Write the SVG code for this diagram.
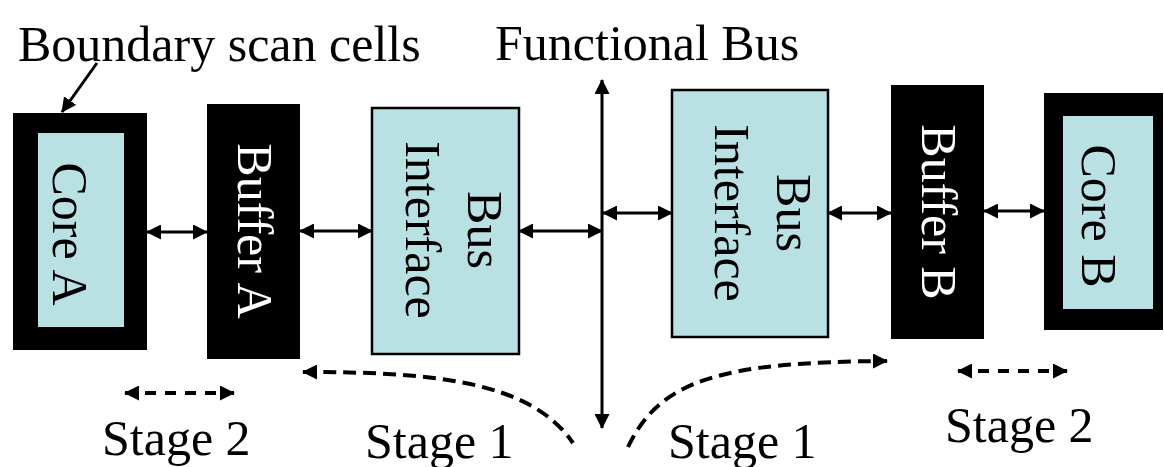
<svg xmlns="http://www.w3.org/2000/svg" width="1164" height="467" viewBox="0 0 1164 467">
<style>
text{font-family:"Liberation Serif","Times New Roman",serif;font-size:50px;fill:#000}
.lbl{text-anchor:middle}
.w{fill:#fff}
.core{fill:#000}
.inner{fill:#b9e0e3}
.bif{fill:#b9e0e3;stroke:#000;stroke-width:2.5}
.buf{fill:#000}
.ln{fill:none;stroke:#000;stroke-width:3}
.dash{fill:none;stroke:#000;stroke-width:4;stroke-dasharray:13 7}
.sdash{fill:none;stroke:#000;stroke-width:4;stroke-dasharray:11 9}
</style>
<defs>
<marker id="ah" markerUnits="userSpaceOnUse" markerWidth="15" markerHeight="15" refX="14" refY="7.5" orient="auto-start-reverse" viewBox="0 0 15 15">
<path d="M0,0 L15,7.5 L0,15 z" fill="#000"/>
</marker>
</defs>
<rect width="1164" height="467" fill="#fff"/>
<text x="18" y="61">Boundary scan cells</text>
<text x="495" y="60">Functional Bus</text>
<g id="coreA">
<rect class="core" x="13" y="113" width="134" height="237"/>
<rect class="inner" x="38" y="133" width="86" height="194"/>
<text class="lbl" transform="translate(53,234) rotate(90)">Core A</text>
</g>
<g id="bufferA">
<rect class="buf" x="207" y="104" width="93" height="255"/>
<text class="lbl w" transform="translate(238,231) rotate(90)">Buffer A</text>
</g>
<g id="busIfA">
<rect class="bif" x="372" y="108" width="147" height="246"/>
<text class="lbl" transform="translate(468,230) rotate(90)">Bus</text>
<text class="lbl" transform="translate(406,230) rotate(90)">Interface</text>
</g>
<g id="busIfB">
<rect class="bif" x="672" y="90" width="156" height="247"/>
<text class="lbl" transform="translate(777,213) rotate(90)">Bus</text>
<text class="lbl" transform="translate(715,213) rotate(90)">Interface</text>
</g>
<g id="bufferB">
<rect class="buf" x="891" y="85" width="93" height="254"/>
<text class="lbl w" transform="translate(922,212) rotate(90)">Buffer B</text>
</g>
<g id="coreB">
<rect class="core" x="1044" y="93" width="119" height="237"/>
<rect class="inner" x="1063" y="116" width="90" height="193"/>
<text class="lbl" transform="translate(1082,216) rotate(90)">Core B</text>
</g>
<g id="connectors">
<line class="ln" x1="97" y1="63" x2="62" y2="112" stroke-width="3.5" marker-end="url(#ah)"/>
<line class="ln" x1="602" y1="80" x2="602" y2="428" stroke-width="3.5" marker-start="url(#ah)" marker-end="url(#ah)"/>
<line class="ln" x1="147" y1="232" x2="207" y2="232" marker-start="url(#ah)" marker-end="url(#ah)"/>
<line class="ln" x1="300" y1="231" x2="372" y2="231" marker-start="url(#ah)" marker-end="url(#ah)"/>
<line class="ln" x1="519" y1="231" x2="602" y2="231" marker-start="url(#ah)" marker-end="url(#ah)"/>
<line class="ln" x1="603" y1="213" x2="672" y2="213" marker-start="url(#ah)" marker-end="url(#ah)"/>
<line class="ln" x1="828" y1="213" x2="891" y2="213" marker-start="url(#ah)" marker-end="url(#ah)"/>
<line class="ln" x1="984" y1="211" x2="1044" y2="211" marker-start="url(#ah)" marker-end="url(#ah)"/>
<line class="sdash" x1="125" y1="393" x2="234" y2="393" marker-start="url(#ah)" marker-end="url(#ah)"/>
<line class="sdash" x1="958" y1="371" x2="1067" y2="371" marker-start="url(#ah)" marker-end="url(#ah)"/>
<path class="dash" d="M303,372 C430,372 530,380 573,443" marker-start="url(#ah)"/>
<path class="dash" d="M628,447 C660,380 720,362 887,361" marker-end="url(#ah)"/>
</g>
<text x="102" y="455">Stage 2</text>
<text x="365" y="458">Stage 1</text>
<text x="668" y="458">Stage 1</text>
<text x="945" y="442">Stage 2</text>
</svg>
